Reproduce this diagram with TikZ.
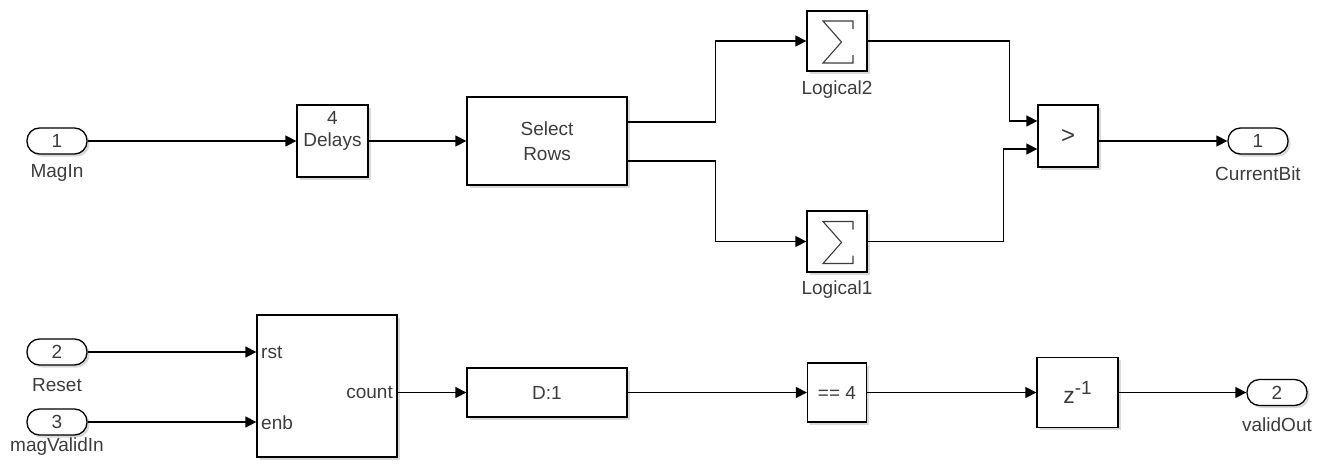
\documentclass[tikz,border=0pt]{standalone}
\usepackage{fontspec}
\setmainfont{Liberation Sans}
\usetikzlibrary{arrows.meta,shadows,calc}
\definecolor{txt}{HTML}{3C3C3C}
\newcommand\ftx{\fontsize{19}{25}\selectfont}
\tikzset{
  blk/.style={draw=black, line width=1.3pt, fill=white, inner sep=0pt,
    drop shadow={shadow xshift=2.5pt, shadow yshift=-2.5pt, opacity=0.3},
    font=\ftx, text=txt, align=center},
  port/.style={blk, rounded corners=12.5pt, minimum width=60pt, minimum height=26pt},
  lbl/.style={font=\ftx, text=txt, inner sep=0pt},
  wire/.style={line width=1.4pt, -{Triangle[length=11pt,width=11pt]}},
  sig/.style={line width=1.1pt, draw=txt, line join=miter}
}
\begin{document}
\begin{tikzpicture}[x=1pt,y=-1pt]
\useasboundingbox (0,0) rectangle (1323,464);
% top row
\node[port] (in1) at (57,141) {1};
\node[lbl] (in1l) at (57,173) {MagIn};
\node[blk, minimum width=71pt, minimum height=72pt] (del) at (332.5,141) {};
\node[lbl] (del4) at (332.5,118) {4};
\node[lbl] (dell) at (332.5,142) {Delays};
\node[blk, minimum width=160pt, minimum height=88pt] (sel) at (547,141) {Select\\Rows};
\node[blk, minimum width=60pt, minimum height=60pt] (log2) at (837,41) {};
\node[lbl] (log2l) at (837,90) {Logical2};
\node[blk, minimum width=60pt, minimum height=61pt] (log1) at (837,241.5) {};
\node[lbl] (log1l) at (837,290) {Logical1};
\foreach \n in {log1,log2}
  \draw[sig] ($(\n.center)+(16,-12)$) -- ++(0,-8) -- ++(-30,0) -- ++(18.5,21) -- ++(-18.5,21) -- ++(30,0) -- ++(0,-8);
\node[blk, minimum width=60pt, minimum height=62pt, font=\fontsize{24}{24}\selectfont] (cmp) at (1068,136) {>};
\node[port] (out1) at (1258,141) {1};
\node[lbl] (out1l) at (1258,174) {CurrentBit};
% bottom row
\node[port] (in2) at (57,352) {2};
\node[lbl] (in2l) at (57,385) {Reset};
\node[port] (in3) at (57,422) {3};
\node[lbl] (in3l) at (57,447) {magValidIn};
\node[blk, minimum width=140pt, minimum height=142pt] (cnt) at (327,386) {};
\node[lbl, anchor=west] (rst) at (261,352) {rst};
\node[lbl, anchor=west] (enb) at (261,423) {enb};
\node[lbl, anchor=east] (count) at (393,392.5) {count};
\node[blk, minimum width=160pt, minimum height=49pt] (d1) at (547,392.5) {D:1};
\node[blk, minimum width=59pt, minimum height=59pt] (eq) at (837,392.5) {== 4};
\node[blk, minimum width=81pt, minimum height=70pt, font=\fontsize{23}{23}\selectfont] (zd) at (1077.5,392.5) {z\raisebox{9pt}{\fontsize{19}{19}\selectfont -1}};
\node[port] (out2) at (1277,392.5) {2};
\node[lbl] (out2l) at (1277,425) {validOut};
% wires
\draw[wire] (in1.east) -- (del.west);
\draw[wire] (del.east) -- (sel.west);
\draw[wire] ([yshift=19pt]sel.east) -- ++(88,0) |- (log2.west);
\draw[wire] ([yshift=-20pt]sel.east) -- ++(88,0) |- (log1.west);
\draw[wire] (log2.east) -- ++(142,0) |- ([yshift=15pt]cmp.west);
\draw[wire] (log1.east) -- ++(136,0) |- ([yshift=-13pt]cmp.west);
\draw[wire] ([yshift=-5pt]cmp.east) -- (out1.west);
\draw[wire] (in2.east) -- (in2.east -| cnt.west);
\draw[wire] (in3.east) -- (in3.east -| cnt.west);
\draw[wire] ([yshift=-6.5pt]cnt.east) -- (d1.west);
\draw[wire] (d1.east) -- (eq.west);
\draw[wire] (eq.east) -- (zd.west);
\draw[wire] (zd.east) -- (out2.west);
\end{tikzpicture}
\end{document}
